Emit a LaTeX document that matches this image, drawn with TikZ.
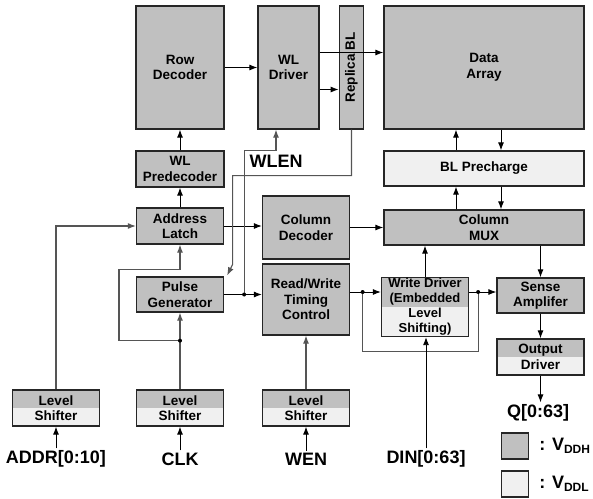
\documentclass[tikz,border=0pt]{standalone}
\usepackage{fontspec}
\setmainfont{Liberation Sans}
\usepackage{tikz}
\usetikzlibrary{arrows.meta}
\definecolor{vddh}{HTML}{C0C0C0}
\definecolor{vddl}{HTML}{F0F0F0}
\definecolor{wire}{HTML}{555555}
\tikzset{
    blk/.style={draw=black!85, line width=1.3pt, fill=vddh, align=center, inner sep=0pt,
        font=\fontsize{13.5}{15.5}\selectfont\bfseries},
    twotone/.style={blk, fill=vddl, path picture={
        \fill[vddh] (path picture bounding box.north west) rectangle (path picture bounding box.east);}},
    arr/.style={-{Latex[length=8pt,width=6pt]}, line width=0.9pt},
    gw/.style={draw=wire, line width=1.1pt},
    sig/.style={font=\fontsize{18}{20}\selectfont\bfseries, inner sep=2pt},
}
\begin{document}
\begin{tikzpicture}[x=1pt, y=-1pt]
                    \useasboundingbox (0,0) rectangle (593,498);
                    \node[blk, minimum width=88pt, minimum height=123pt] (rowdec) at (180,67.5) {Row\\Decoder};
                    \node[blk, minimum width=61pt, minimum height=123pt] (wldrv) at (288.5,67.5) {WL\\Driver};
                    \node[blk, minimum width=24.5pt, minimum height=123pt] (rbl) at (351.5,67.5) {\rotatebox{90}{Replica BL}};
                    \node[blk, minimum width=200pt, minimum height=123pt] (array) at (484,67.5) {Data\\Array};
                    \node[blk, minimum width=88pt, minimum height=36pt] (wlpre) at (180,169) {WL\\Predecoder};
                    \node[blk, fill=vddl, minimum width=200pt, minimum height=35pt] (blpre) at (484,168.5) {BL Precharge};
                    \node[blk, minimum width=200pt, minimum height=35pt] (colmux) at (484,227.5) {Column\\MUX};
                    \node[blk, minimum width=87pt, minimum height=36pt] (addr) at (180,226) {Address\\Latch};
                    \node[blk, minimum width=87pt, minimum height=63pt] (coldec) at (306,227.5) {Column\\Decoder};
                    \node[blk, minimum width=87pt, minimum height=35pt] (pulse) at (180,294.5) {Pulse\\Generator};
                    \node[blk, minimum width=87pt, minimum height=71pt] (rwtc) at (306,299.5) {Read/Write\\Timing\\Control};
                    \node[twotone, minimum width=87pt, minimum height=59pt, font=\fontsize{13}{15}\selectfont\bfseries]
                        (wdrv) at (425,307) {Write Driver\\(Embedded\\Level\\Shifting)};
                    \node[blk, minimum width=87pt, minimum height=35pt] (sense) at (540.5,295.5) {Sense\\Amplifer};
                    \node[twotone, minimum width=87pt, minimum height=36pt] (outdrv) at (540.5,357) {Output\\Driver};
                    \node[sig] (wlen) at (276,161.5) {WLEN};
                    \node[sig] (din) at (426,459) {DIN[0:63]};
                    \node[sig] (q) at (538,413) {Q[0:63]};
                        \foreach \n/\x/\t in {addr/56/ADDR[0:10], clk/180/CLK, wen/306/WEN} {
                            \node[twotone, minimum width=87pt, minimum height=36pt] (ls\n) at (\x,408) {Level\\Shifter};
                            \node[sig] (in\n) at (\x,459) {\t};
                            \draw[arr] (in\n) -- (ls\n);
                        }
                        \foreach \a/\b in {array/blpre, blpre/colmux} {
                            \draw[arr] ([xshift=-28pt]\b.north) -- ([xshift=-28pt]\a.south);
                            \draw[arr] ([xshift=17pt]\a.south) -- ([xshift=17pt]\b.north);
                        }
                    \draw[arr] (rowdec) -- (wldrv);
                    \draw[arr] ([yshift=15pt]wldrv.east) -- ([yshift=15pt]array.west);
                    \draw[arr] ([yshift=-22pt]wldrv.east) -- ([yshift=-22pt]rbl.west);
                    \draw[arr] (wlpre) -- (rowdec);
                    \draw[arr] (addr) -- (wlpre);
                    \draw[arr] (addr.east) -- (addr.east -| coldec.west);
                    \draw[arr] (coldec) -- (colmux);
                    \draw[arr] (pulse.east) -- (pulse.east -| rwtc.west);
                    \coordinate (wlendot) at ([xshift=20pt]pulse.east);
                    \draw[arr, gw] (wlendot) |- ([xshift=-12.5pt,yshift=-21pt]wldrv.south) -- ([xshift=-12.5pt]wldrv.south);
                    \draw[arr, gw] (rbl.south) -- ++(0,46) -| ([xshift=8.5pt,yshift=12pt]pulse.north east)
                        -- ([xshift=3pt,yshift=1pt]pulse.north east);
                    \coordinate (clkdot) at ([yshift=-28pt]pulse.south);
                    \draw[arr, gw] (lsclk) -- (pulse);
                    \draw[arr, gw] (clkdot) -- ++(-61,0) |- ([yshift=-25pt]addr.south) -- (addr.south);
                    \draw[arr, gw] (lsaddr.north) |- (addr.west);
                    \draw[arr, gw] (lswen) -- (rwtc);
                    \coordinate (rwdot) at ([xshift=12.5pt,yshift=7.5pt]rwtc.east);
                    \coordinate (wddot) at ([xshift=9pt]wdrv.east |- rwdot);
                    \draw[arr] ([yshift=7.5pt]rwtc.east) -- (rwdot -| wdrv.west);
                    \draw[arr] (wdrv.east |- rwdot) -- (sense.west |- rwdot);
                    \draw[gw] (rwdot) |- ([yshift=-14pt]wdrv.south) -| (wddot);
                    \draw[arr] (wdrv.north) -- (wdrv.north |- colmux.south);
                    \draw[arr] (sense.north |- colmux.south) -- (sense.north);
                    \draw[arr] (sense) -- (outdrv);
                    \draw[arr] (outdrv.south) -- (outdrv.south |- q.north);
                    \draw[arr] (din.north) -- (din.north |- wdrv.south);
                        \foreach \d in {wlendot, clkdot, rwdot, wddot} {
                            \fill (\d) circle (2pt);
                        }
                    \node[blk, minimum width=27pt, minimum height=26pt] (keyh) at (515,446) {};
                    \node[blk, fill=vddl, minimum width=27pt, minimum height=26pt] (keyl) at (515,484) {};
                    \node[sig, anchor=west] (keyhtxt) at ([xshift=8pt]keyh.east)
                        {: V\raisebox{-2.5pt}{\fontsize{12}{12}\selectfont DDH}};
                    \node[sig, anchor=west] (keyltxt) at ([xshift=8pt]keyl.east)
                        {: V\raisebox{-2.5pt}{\fontsize{12}{12}\selectfont DDL}};
                \end{tikzpicture}
\end{document}
